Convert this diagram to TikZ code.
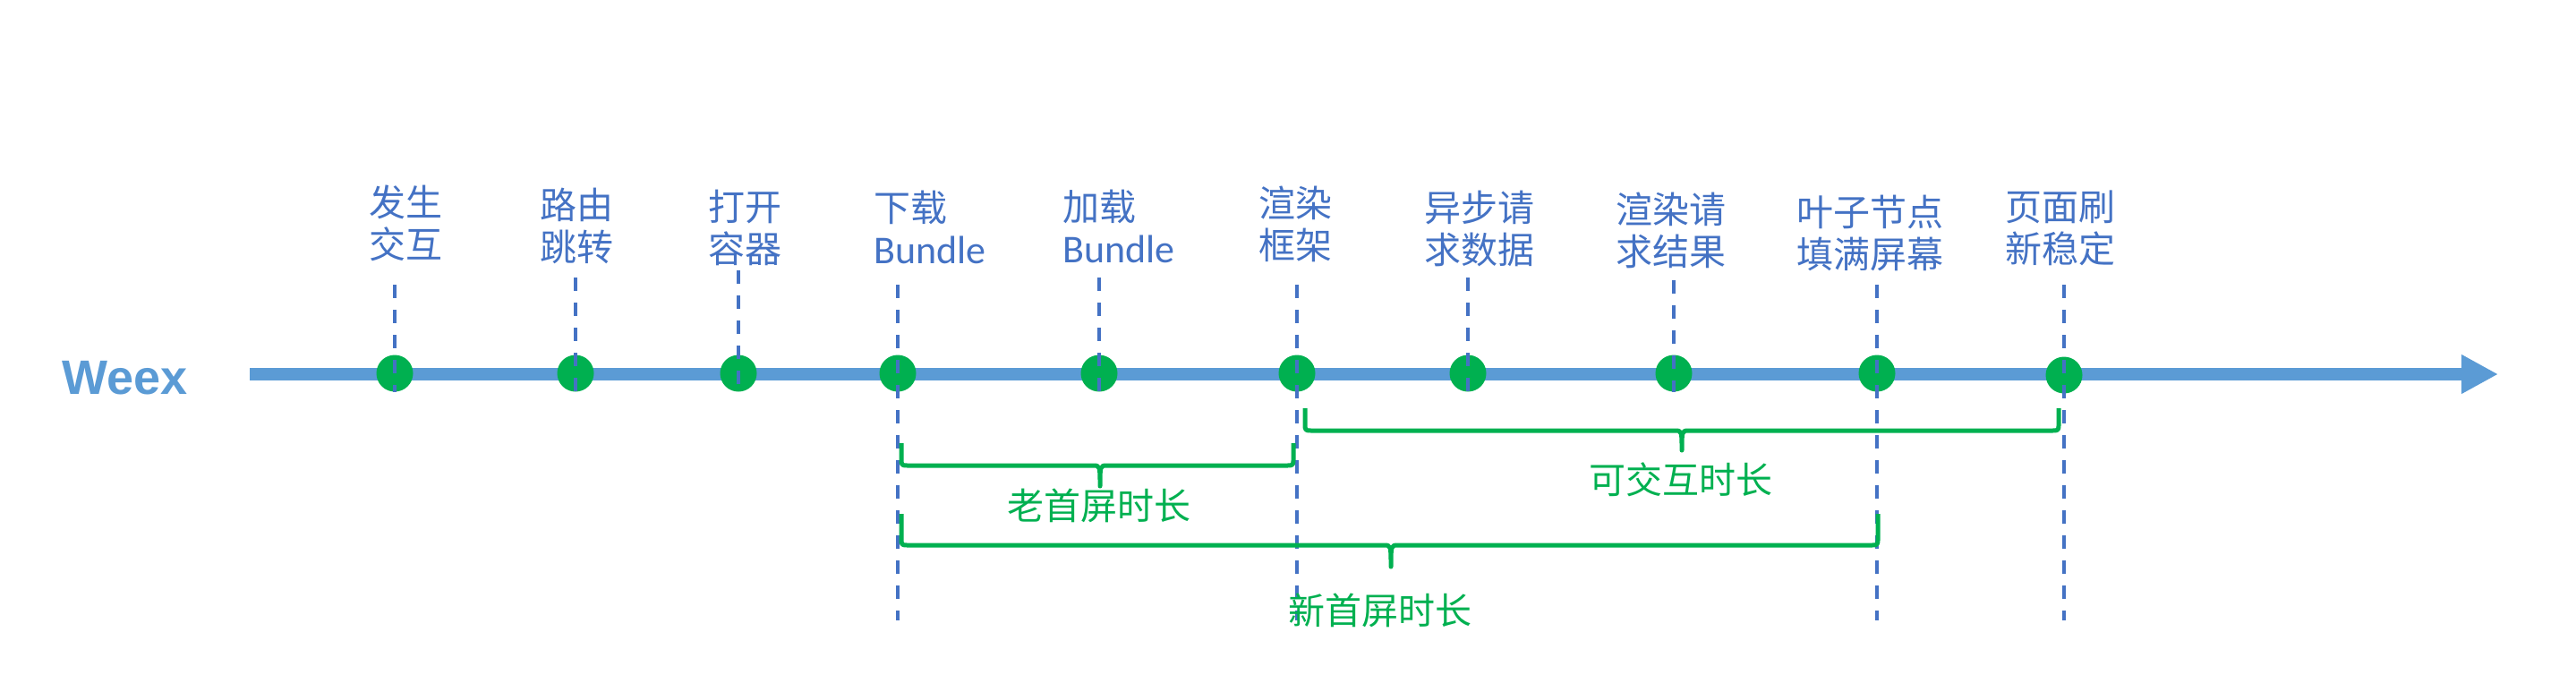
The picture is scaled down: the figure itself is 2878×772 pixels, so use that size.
\documentclass[tikz,border=0pt]{standalone}
\usepackage{fontspec}
\setmainfont{Noto Sans CJK SC}
\newfontfamily\latinfont{Carlito}
\newfontfamily\weexfont{Liberation Sans}
\usetikzlibrary{arrows.meta}
\definecolor{axisblue}{RGB}{91,155,213}
\definecolor{labelblue}{RGB}{68,114,196}
\definecolor{stepgreen}{RGB}{0,176,80}
\begin{document}
\begin{tikzpicture}[x=1pt,y=-1pt]
  \useasboundingbox (0,0) rectangle (2878,772);
  \node[anchor=base west,inner sep=0pt,text=axisblue,font=\weexfont\bfseries\fontsize{54}{60}\selectfont] (weex) at (69,440) {Weex};
  \coordinate (axisstart) at (279,418);
  \coordinate (axisend) at (2791,418);
  \draw[axisblue,line width=14pt,-{Triangle[length=41pt,width=41pt]}] (axisstart) -- (axisend);
  \begin{scope}[every node/.style={circle,fill=stepgreen,inner sep=0pt,minimum size=41pt}]
    \node (interact) at (441,417) {};
    \node (route) at (643,417) {};
    \node (open) at (825,417) {};
    \node (download) at (1003,417) {};
    \node (load) at (1228,417) {};
    \node (frame) at (1449,417) {};
    \node (request) at (1640,417) {};
    \node (result) at (1870,417) {};
    \node (fill) at (2097,417) {};
    \node (stable) at (2306,419) {};
  \end{scope}
  \begin{scope}[every node/.style={anchor=north west,align=left,inner sep=0pt,text=labelblue,font=\fontsize{41}{47}\selectfont}]
    \node (interactlbl) at (412,207) {发生\\交互};
    \node (routelbl) at (603,210) {路由\\跳转};
    \node (openlbl) at (791,212) {打开\\容器};
    \node (downloadlbl) at (976,213) {下载\\{\latinfont\fontsize{44}{47}\selectfont Bundle}};
    \node (loadlbl) at (1187,212) {加载\\{\latinfont\fontsize{44}{47}\selectfont Bundle}};
    \node (framelbl) at (1406,208) {渲染\\框架};
    \node (requestlbl) at (1591,213) {异步请\\求数据};
    \node (resultlbl) at (1805,215) {渲染请\\求结果};
    \node (filllbl) at (2007,218) {叶子节点\\填满屏幕};
    \node (stablelbl) at (2240,213) {页面刷\\新稳定};
  \end{scope}
  \coordinate (interacttop) at (441,318);
  \coordinate (routetop) at (643,310);
  \coordinate (opentop) at (825,302);
  \coordinate (downloadtop) at (1003,318);
  \coordinate (loadtop) at (1228,310);
  \coordinate (frametop) at (1449,318);
  \coordinate (requesttop) at (1640,310);
  \coordinate (resulttop) at (1870,313);
  \coordinate (filltop) at (2097,318);
  \coordinate (stabletop) at (2306,318);
  \coordinate (downloadbot) at (1003,693);
  \coordinate (framebot) at (1449,693);
  \coordinate (fillbot) at (2097,693);
  \coordinate (stablebot) at (2306,693);
  \begin{scope}[every edge/.style={draw=labelblue,line width=4pt,dash pattern=on 15pt off 13pt}]
    \path (interacttop) edge (interact.south);
    \path (routetop) edge (route.south);
    \path (opentop) edge (open.south);
    \path (downloadtop) edge (downloadbot);
    \path (loadtop) edge (load.south);
    \path (frametop) edge (framebot);
    \path (requesttop) edge (request.south);
    \path (resulttop) edge (result.south);
    \path (filltop) edge (fillbot);
    \path (stabletop) edge (stablebot);
  \end{scope}
  \begin{scope}[draw=stepgreen,line width=5pt,line join=round]
    \draw (1007,495) -- (1007,512) .. controls (1007,520) .. (1015,520) -- (1221,520) .. controls (1229,520) .. (1229,543) .. controls (1229,520) .. (1237,520) -- (1437,520) .. controls (1445,520) .. (1445,512) -- (1445,495);
    \draw (1458,456) -- (1458,473) .. controls (1458,481) .. (1466,481) -- (1871,481) .. controls (1879,481) .. (1879,503) .. controls (1879,481) .. (1887,481) -- (2292,481) .. controls (2300,481) .. (2300,473) -- (2300,456);
    \draw (1007,574) -- (1007,601) .. controls (1007,609) .. (1015,609) -- (1546,609) .. controls (1554,609) .. (1554,633) .. controls (1554,609) .. (1562,609) -- (2090,609) .. controls (2098,609) .. (2098,601) -- (2098,574);
  \end{scope}
  \begin{scope}[every node/.style={inner sep=0pt,text=stepgreen,font=\fontsize{41}{47}\selectfont}]
    \node (oldfirst) at (1228,565) {老首屏时长};
    \node (interactive) at (1878,536) {可交互时长};
    \node (newfirst) at (1542,682) {新首屏时长};
  \end{scope}
\end{tikzpicture}
\end{document}
